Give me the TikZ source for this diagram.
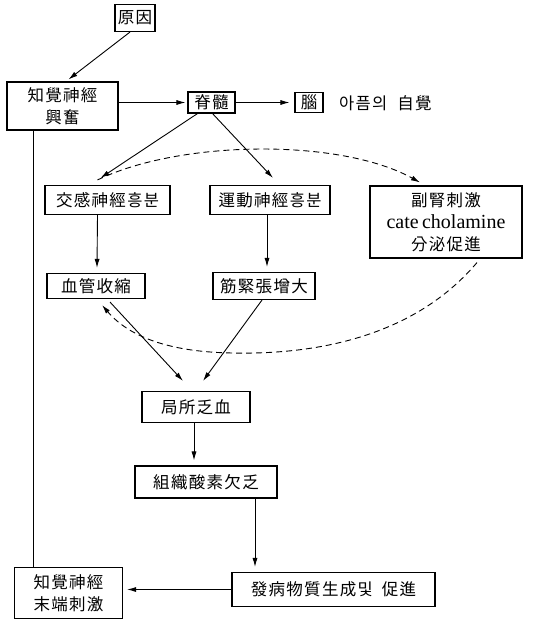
\documentclass[tikz,border=0pt]{standalone}
\usepackage{fontspec}
\newfontfamily\cjk[LetterSpace=8]{Noto Sans CJK KR}
\newfontfamily\latser{Liberation Serif}
\usetikzlibrary{arrows.meta}
\begin{document}
\begin{tikzpicture}[x=1pt,y=-1pt,
  box/.style={draw,line width=1.1pt,inner sep=0pt,align=center,font=\cjk\fontsize{16.5}{22}\selectfont},
  lbl/.style={inner sep=0pt,font=\cjk\fontsize{16.5}{22}\selectfont},
  arr/.style={line width=0.9pt,-{Latex[length=9pt,width=5pt]}},
  ln/.style={line width=0.9pt},
  dsh/.style={line width=0.9pt,dash pattern=on 6pt off 4pt,-{Latex[length=9pt,width=5pt]}}]
\useasboundingbox (0,0) rectangle (541,620);
\node[box,minimum width=40pt,minimum height=27pt] (cause) at (135,18) {原因};
\node[box,minimum width=111pt,minimum height=48pt] (sens) at (62.5,106) {知覺神經\\興奮};
\node[box,minimum width=47pt,minimum height=21pt] (spinal) at (211.5,102.5) {脊髓};
\node[box,minimum width=28pt,minimum height=20pt] (brain) at (309,102.5) {腦};
\node[lbl,anchor=west] (pain) at (339,103) {아픔의\kern10pt 自覺};
\node[box,minimum width=125pt,minimum height=29pt] (symp) at (107.5,200) {交感神經흥분};
\node[box,minimum width=120pt,minimum height=29pt] (motor) at (270,200) {運動神經흥분};
\node[box,minimum width=152pt,minimum height=72pt] (adren) at (446,222) {副腎刺激\\{\latser\fontsize{20}{22}\selectfont cate\,cholamine}\\分泌促進};
\node[box,minimum width=98pt,minimum height=25pt] (vaso) at (96,286) {血管收縮};
\node[box,minimum width=102pt,minimum height=27pt] (muscle) at (264,286) {筋緊張增大};
\node[box,minimum width=108pt,minimum height=31pt] (isch) at (196,407) {局所乏血};
\node[box,minimum width=142pt,minimum height=32pt] (hypo) at (206,482) {組織酸素欠乏};
\node[box,minimum width=203pt,minimum height=34pt] (patho) at (333.5,589.5) {發病物質生成및\kern9pt 促進};
\node[box,minimum width=108pt,minimum height=51pt] (nend) at (68.5,593) {知覺神經\\末端刺激};
% connectors
\draw[arr] ([xshift=-5pt]cause.south) -- ([xshift=6pt,yshift=2pt]sens.north);
\draw[arr] (sens.east |- spinal.west) -- ([xshift=-2pt]spinal.west);
\draw[arr] (spinal.east) -- ([xshift=-5pt]brain.west);
\draw[arr] ([xshift=-14pt]spinal.south) -- ([xshift=-7pt,yshift=7pt]symp.north);
\draw[arr] ([xshift=1pt]spinal.south) -- ([xshift=3pt,yshift=7pt]motor.north);
\draw[dsh] ([xshift=-10pt,yshift=5pt]symp.north) .. controls (180,140) and (340,138) .. ([xshift=-26pt,yshift=3pt]adren.north);
\draw[arr] ([xshift=-10pt]symp.south) -- ([xshift=1pt,yshift=5pt]vaso.north);
\draw[arr] ([xshift=-3pt]motor.south) -- ([xshift=3pt,yshift=5pt]muscle.north);
\draw[dsh] ([xshift=31pt,yshift=-4pt]adren.south) .. controls (420,330) and (330,355) .. (233,353) .. controls (160,352) and (125,332) .. ([xshift=6pt,yshift=-6pt]vaso.south);
\draw[arr] ([xshift=14pt,yshift=-3pt]vaso.south) -- ([xshift=-13pt,yshift=10pt]isch.north);
\draw[arr] ([xshift=-2pt]muscle.south) -- ([xshift=7pt,yshift=10pt]isch.north);
\draw[arr] ([xshift=-2pt]isch.south) -- ([xshift=-12pt,yshift=5pt]hypo.north);
\draw[arr] ([xshift=49pt]hypo.south) -- ([xshift=-78.5pt,yshift=5pt]patho.north);
\draw[arr] (patho.west) -- ([xshift=4pt]patho.west -| nend.east);
\draw[ln] ([xshift=-35.5pt]nend.north) -- ([xshift=-35.5pt]nend.north |- sens.south);
\end{tikzpicture}
\end{document}
